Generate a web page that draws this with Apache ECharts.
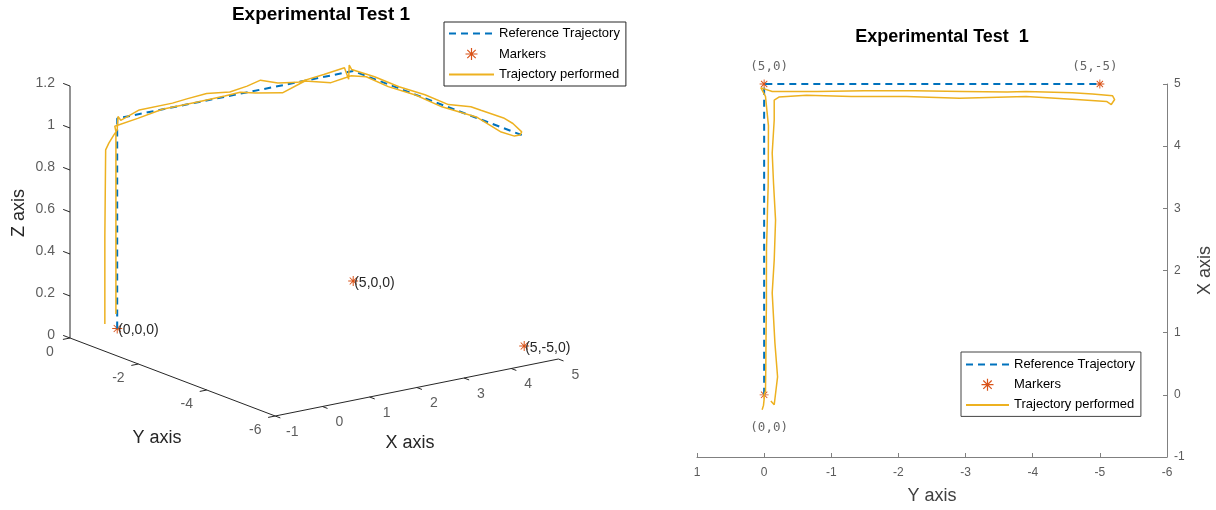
<!DOCTYPE html>
<html>
<head>
<meta charset="utf-8">
<script src="https://cdn.jsdelivr.net/npm/echarts@6/dist/echarts.min.js"></script>
<style>
  html, body { margin: 0; padding: 0; background: #fff; }
  #chart { width: 1216px; height: 510px; }
</style>
</head>
<body>
<div id="chart"></div>
<script>
// reference path and markers (x, y, z)
const refX = [0, 0, 5, 5]
const refY = [0, 0, 0, -5]
const refZ = [0, 1, 1, 1]
const markerX = [0, 5, 5]
const markerY = [0, 0, -5]
const markerZ = [0, 0, 0]
const markerText3d = ['(0,0,0)', '(5,0,0)', '(5,-5,0)']
const markerText2d = ['(0,0)', '(5,0)', '(5,-5)']

const trajX = [-0.24, -0.24, -0.23, -0.17, -0.07, 0.00, 0.01, 0.06, 0.45, 1.15, 1.45, 1.87, 2.36, 2.72, 3.00, 3.36, 3.78, 4.33, 4.80, 4.94, 4.93,
  4.88, 4.88, 4.89, 4.89, 4.88, 4.87, 4.88, 4.86, 4.84, 4.81, 4.75, 4.67, 4.72,
  4.75, 4.80, 4.77, 4.80, 4.80, 4.82, 4.79, 4.74,
  4.42, 3.89, 3.40, 2.81, 2.49, 2.17, 1.64, 0.84, 0.29, -0.16, -0.10, -0.10, -0.10]
const trajY = [0.03, 0.03, 0.02, 0.01, 0.00, 0.00, -0.01, -0.02, -0.025, -0.03, -0.034, -0.034, -0.035, -0.045, -0.05, -0.06, -0.062, -0.064, -0.02, 0.05, 0.02,
  -0.12, -0.79, -1.49, -2.25, -2.95, -3.62, -3.90, -4.59, -4.89, -5.19, -5.22, -5.17, -5.10,
  -4.65, -3.90, -2.91, -2.12, -1.30, -0.63, -0.22, -0.15,
  -0.15, -0.12, -0.14, -0.17, -0.16, -0.15, -0.12, -0.16, -0.20, -0.15, -0.10, -0.10, -0.10]
const trajZ = [0.03, 0.45, 0.86, 0.89, 0.925, 0.945, 1.01, 0.99, 1.022, 1.023, 1.03, 1.037, 1.022, 1.034, 1.05, 1.021, 1.005, 1.018, 1.026, 0.96, 1.03,
  1.02, 1.027, 1.022, 1.031, 1.028, 1.06, 1.06, 1.067, 1.06, 1.04, 1.03, 1.025, 1.02,
  1.01, 1.03, 1.02, 1.025, 1.015, 1.02, 1.00, 0.99,
  0.98, 1.01, 0.977, 1.005, 1.022, 1.018, 1.013, 1.016, 1.00, 0.98, 0.95, 0.50, 0.08]

// tick values of the 3D view
const xTicks3d = [-1, 0, 1, 2, 3, 4, 5]
const yTicks3d = [0, -2, -4, -6]
const zTicks3d = [0, 0.2, 0.4, 0.6, 0.8, 1, 1.2]

const FONT = '"Liberation Sans", Arial, sans-serif'
const BLUE = '#0072BD'
const ORANGE = '#D95319'
const YELLOW = '#EDB120'
const STAR = 'path://M-1,-10L1,-10L1,10L-1,10Z M-10,-1L10,-1L10,1L-10,1Z M-7.7,-6.3L-6.3,-7.7L7.7,6.3L6.3,7.7Z M6.3,-7.7L7.7,-6.3L-6.3,7.7L-7.7,6.3Z'

// 3D view of the left panel: pixel position of (x=-1, y=0, z=0) and one unit along each axis
const view = { ox: 70, oy: 338, x0: -1, ex: [47.2, -9.5], ey: [-34.2, -13], ez: [0, -210] }
const proj = (x, y, z) => [
  view.ox + view.ex[0] * (x - view.x0) + view.ey[0] * y + view.ez[0] * z,
  view.oy + view.ex[1] * (x - view.x0) + view.ey[1] * y + view.ez[1] * z
]

// axis lines and ticks of the 3D box
const boxSegs = []
const seg3 = (p, q) => {
  const a = proj(...p)
  const b = proj(...q)
  boxSegs.push([a[0], a[1], b[0], b[1]])
}
seg3([-1, 0, 0], [-1, 0, 1.2])
seg3([-1, 0, 0], [-1, -6, 0])
seg3([-1, -6, 0], [5, -6, 0])
zTicks3d.forEach(z => seg3([-1, 0, z], [-1, 0.2, z]))
yTicks3d.forEach(y => seg3([-1, y, 0], [-1.15, y, 0]))
xTicks3d.forEach(x => seg3([x, -6, 0], [x, -6.15, 0]))

const labelOffsets2d = [[5, 33], [5, -17], [-5, -17]]

const tickLabelSeries = (items, label) => ({
  type: 'scatter',
  xAxisIndex: 0,
  yAxisIndex: 0,
  silent: true,
  symbolSize: 0,
  data: items,
  label: Object.assign({ show: true, formatter: '{b}', color: '#333', fontSize: 14, fontFamily: FONT }, label)
})

// legend: lines without a dot on them
const legendItems = [
  { name: 'Reference Trajectory', itemStyle: { opacity: 0 } },
  { name: 'Markers', icon: STAR },
  { name: 'Trajectory performed', itemStyle: { opacity: 0 } }
]

const myChart = echarts.init(document.getElementById('chart'))
myChart.setOption({
  animation: false,
  backgroundColor: '#fff',
  grid: [
    { left: 0, top: 0, width: 620, height: 510 },
    { left: 697, right: 49, top: 84, bottom: 53 }
  ],
  xAxis: [
    { gridIndex: 0, type: 'value', min: 0, max: 620, show: false },
    {
      gridIndex: 1,
      type: 'value',
      inverse: true,
      min: -6,
      max: 1,
      interval: 1,
      axisLine: { onZero: false, lineStyle: { color: '#808080' } },
      axisTick: { inside: true, length: 4, lineStyle: { color: '#808080' } },
      axisLabel: { color: '#5a5a5a', fontSize: 12, margin: 10, fontFamily: FONT },
      splitLine: { show: false },
      name: 'Y axis',
      nameLocation: 'middle',
      nameGap: 30,
      nameTextStyle: { fontSize: 18, color: '#404040', fontFamily: FONT }
    }
  ],
  yAxis: [
    { gridIndex: 0, type: 'value', min: 0, max: 510, inverse: true, show: false },
    {
      gridIndex: 1,
      type: 'value',
      position: 'right',
      min: -1,
      max: 5,
      interval: 1,
      axisLine: { show: true, onZero: false, lineStyle: { color: '#808080' } },
      axisTick: { show: true, inside: true, length: 4, lineStyle: { color: '#808080' } },
      axisLabel: { color: '#5a5a5a', fontSize: 12, margin: 7, fontFamily: FONT },
      splitLine: { show: false },
      name: 'X axis',
      nameLocation: 'middle',
      nameRotate: 90,
      nameGap: 29,
      nameTextStyle: { fontSize: 18, color: '#404040', fontFamily: FONT }
    }
  ],
  legend: [
    {
      orient: 'vertical',
      left: 444,
      top: 22,
      padding: [5, 6, 5, 4],
      itemWidth: 45,
      itemHeight: 12,
      itemGap: 7.5,
      borderColor: '#262626',
      borderWidth: 1,
      backgroundColor: '#fff',
      selectedMode: false,
      textStyle: { fontSize: 13, color: '#000', fontFamily: FONT },
      data: legendItems
    },
    {
      orient: 'vertical',
      left: 961,
      top: 352,
      padding: [6, 6, 5, 4],
      itemWidth: 43,
      itemHeight: 12,
      itemGap: 7.2,
      borderColor: '#444',
      borderWidth: 1,
      backgroundColor: '#fff',
      selectedMode: false,
      textStyle: { fontSize: 13, color: '#000', fontFamily: FONT },
      data: legendItems
    }
  ],
  graphic: [
    { type: 'text', x: 321, y: 15, style: { text: 'Experimental Test 1', font: 'bold 19px ' + FONT, fill: '#000', align: 'center', verticalAlign: 'middle' } },
    { type: 'text', x: 942, y: 37.5, style: { text: 'Experimental Test  1', font: 'bold 18px ' + FONT, fill: '#000', align: 'center', verticalAlign: 'middle' } },
    { type: 'text', x: 19, y: 213, rotation: Math.PI / 2, style: { text: 'Z axis', font: '18px ' + FONT, fill: '#262626', align: 'center', verticalAlign: 'middle' } },
    { type: 'text', x: 157, y: 438, style: { text: 'Y axis', font: '18px ' + FONT, fill: '#262626', align: 'center', verticalAlign: 'middle' } },
    { type: 'text', x: 410, y: 443, style: { text: 'X axis', font: '18px ' + FONT, fill: '#262626', align: 'center', verticalAlign: 'middle' } }
  ],
  series: [
    // 3D box
    {
      type: 'custom',
      xAxisIndex: 0,
      yAxisIndex: 0,
      silent: true,
      data: boxSegs,
      encode: { x: [0, 2], y: [1, 3] },
      renderItem: (params, api) => {
        const a = api.coord([api.value(0), api.value(1)])
        const b = api.coord([api.value(2), api.value(3)])
        return { type: 'line', shape: { x1: a[0], y1: a[1], x2: b[0], y2: b[1] }, style: { stroke: '#262626', lineWidth: 1 } }
      }
    },
    tickLabelSeries(zTicks3d.map(z => ({ name: String(z), value: proj(-1, 0, z) })), { position: 'left', distance: 15, offset: [0, -3] }),
    tickLabelSeries(yTicks3d.map(y => ({ name: String(y), value: proj(-1, y, 0) })), { position: 'inside', offset: [-20, 14] }),
    tickLabelSeries(xTicks3d.map(x => ({ name: String(x), value: proj(x, -6, 0) })), { position: 'inside', offset: [17, 16] }),
    // 3D view
    {
      name: 'Reference Trajectory',
      type: 'line',
      xAxisIndex: 0,
      yAxisIndex: 0,
      symbol: 'none',
      lineStyle: { color: BLUE, width: 2, type: [7, 5] },
      itemStyle: { color: BLUE },
      data: refX.map((x, i) => proj(x, refY[i], refZ[i]))
    },
    {
      name: 'Markers',
      type: 'scatter',
      xAxisIndex: 0,
      yAxisIndex: 0,
      symbol: STAR,
      symbolSize: 10,
      itemStyle: { color: ORANGE, opacity: 1 },
      label: { show: true, position: 'right', distance: -4, offset: [0, 2], color: '#262626', fontSize: 14, fontFamily: FONT, formatter: '{b}' },
      data: markerX.map((x, i) => ({ name: markerText3d[i], value: proj(x, markerY[i], markerZ[i]) }))
    },
    {
      name: 'Trajectory performed',
      type: 'line',
      xAxisIndex: 0,
      yAxisIndex: 0,
      symbol: 'none',
      lineStyle: { color: YELLOW, width: 1.5 },
      itemStyle: { color: YELLOW },
      data: trajX.map((x, i) => proj(x, trajY[i], trajZ[i]))
    },
    // top view (horizontal: y, vertical: x)
    {
      name: 'Reference Trajectory',
      type: 'line',
      xAxisIndex: 1,
      yAxisIndex: 1,
      symbol: 'none',
      lineStyle: { color: BLUE, width: 2, type: [7, 5] },
      itemStyle: { color: BLUE },
      data: refX.map((x, i) => [refY[i], x])
    },
    {
      name: 'Markers',
      type: 'scatter',
      xAxisIndex: 1,
      yAxisIndex: 1,
      symbol: STAR,
      symbolSize: 9,
      itemStyle: { color: ORANGE, opacity: 1 },
      label: { show: true, position: 'inside', color: '#666', fontSize: 12.5, fontFamily: '"DejaVu Sans Mono", monospace', formatter: '{b}' },
      data: markerX.map((x, i) => ({ name: markerText2d[i], value: [markerY[i], x], label: { offset: labelOffsets2d[i] } }))
    },
    {
      name: 'Trajectory performed',
      type: 'line',
      xAxisIndex: 1,
      yAxisIndex: 1,
      symbol: 'none',
      lineStyle: { color: YELLOW, width: 1.5 },
      itemStyle: { color: YELLOW },
      data: trajX.map((x, i) => [trajY[i], x])
    }
  ]
})
</script>
</body>
</html>
